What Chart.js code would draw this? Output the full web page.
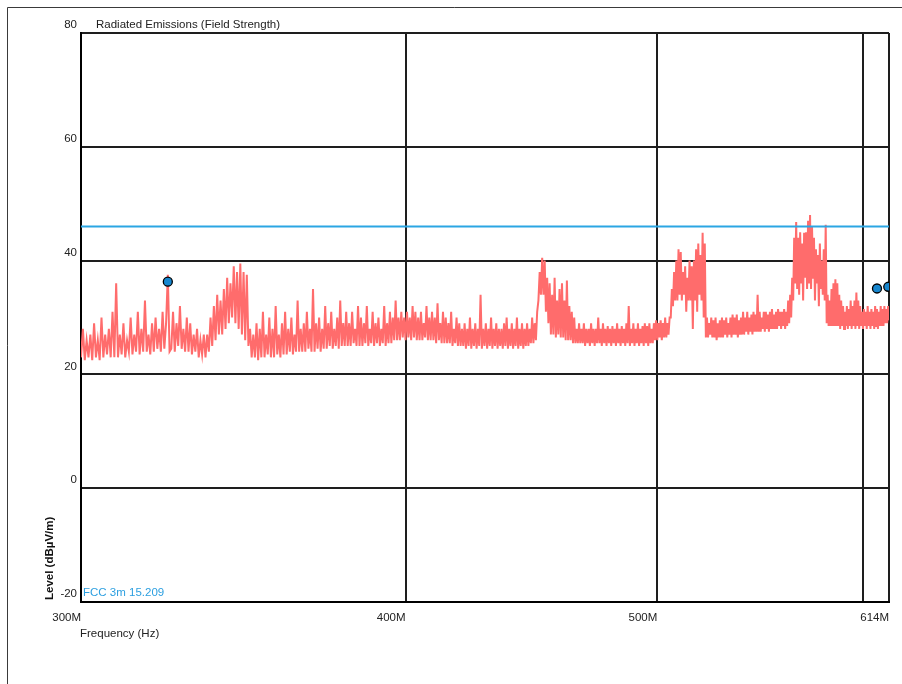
<!DOCTYPE html>
<html>
<head>
<meta charset="utf-8">
<title>Radiated Emissions (Field Strength)</title>
<script src="https://cdn.jsdelivr.net/npm/chart.js@4.4.0/dist/chart.umd.min.js"></script>
<style>
  html, body { margin: 0; padding: 0; background: #fff; }
</style>
</head>
<body>
<canvas id="myChart" width="902" height="684"></canvas>
<script>
// receiver sweep: 300 MHz .. 614 MHz, one reading every 0.5 MHz
const sweepStartMHz = 300;
const sweepStepMHz = 0.5;

// level readings (dBuV/m), 10 per row = 5 MHz per row
const levelDb = [
  23,28,22.5,26,23,27,22.5,29,23,26,
  22.5,30,23,27,23.5,28,23,31,23,36,
  23,27,23.5,29,23,26,24,30,23.5,27,
  24,31,23.5,28,24,33,24,27,23.5,29,
  24,30,24.5,28,24,31,24.5,29,37.5,24,
  24.5,31,24,29,25,32,24.5,28,24,30,
  24,29,23.5,27,24,28,23,26,23.5,27,
  23,27,24,30,25,32,26,34,27,33,
  27,35,28,37,29,36,30,39,29,38,
  28,39.5,27,38,26,37.5,25,28,23,27,
  23,29,22.5,28,23,31,23,27,23.5,30,
  23,28,23,32,23.5,27,23,29,23.5,31,
  23.5,28,24,30,23.5,27,24,33,24,28,
  24,29,24,31,24.5,28,24,35,24,29,
  24.5,30,24,28,24.5,32,24.5,29,25,31,
  24.5,28,25,30,24.5,33,25,29,25,31,
  25,29,25,31,25.5,28,25,32,25,30,
  25,29,25.5,32,25,28,25.5,31,25,29,
  25.5,30,25,28,25.5,32,25,29,25.5,31,
  25.5,30,26,33,26,30,26,31,26.5,30,
  26,31,26.5,30,26,32,26.5,31,26,30,
  26,31,26,29,26.5,32,26,30,26,31,
  26,30,25.5,32.5,26,29,25.5,31,25.5,30,
  25.5,29,25.5,31,25,28,25.5,30,25,29,
  25,28,25,29,24.5,28,25,30,24.5,28,
  25,29,24.5,28,25,34,24.5,28,25,29,
  24.5,28,25,30,24.5,28,25,29,24.5,28,
  25,28,24.5,29,25,30,24.5,28,25,29,
  24.5,28,25,30,24.5,28,25,29,24.5,28,
  25,29,25,28,25.5,30,25.5,29,26,31,
  33,38,34,40.5,34,40,31,37,29,36,
  27,34,27,37,26.5,33,27,35,26.5,36,
  26.5,33,26,36.5,26,32,26,31,25.5,30,
  25.5,28,25.5,29,25.5,28,25.5,29,25,28,
  25.5,28,25,29,25.5,28,25,28,25.5,30,
  25.5,28,25,29,25.5,28,25,28.5,25.5,28,
  25,28.5,25.5,28,25,29,25.5,28,25,28.5,
  25.5,28,25,29,25.5,32,25,28,25.5,29,
  25,28,25.5,29,25,28,25.5,28.5,25,29,
  25.5,28.5,25,29,25.5,28,25.5,29,26,29.5,
  26,29,26.5,29.5,26,29,26.5,30,26.5,29,
  27,30,30,35,32,38,33,40,33,42,
  34,41.5,33,38,34,39,31,37,33,40,
  33,39,28,40,33,42,31,43,34,41,
  33,44.9,30,43,26.5,30,26.5,29,27,30,
  26.5,29.5,26.5,30,26,29,26.5,29.5,26.5,30,
  26.5,29.5,27,30,26.5,29,27,30,26.5,30.5,
  27,30,27,30.5,26.5,29.5,27,30,27,31,
  27,30,27.5,31,27,30,27.5,30.5,27,31,
  27.5,30.5,27.5,34,27.5,31,27.5,30,28,31,
  27.5,31,28,30.5,27.5,31,28,31.5,28,30.5,
  28,31,28,31.5,28.5,31,28,31,28.5,31.5,
  28,31,28.5,33,29,34,30,37,33,44,
  36,46.8,35,44,34,45,36,43,33,44.9,
  37,45,35,47,36,48,35,46,37,44,
  33,42,36,41,32,43,35,40,34,42,
  33,46.3,29,34,28.5,33,28.5,35,28.5,36,
  28.5,36.7,28.5,36,28.5,34,28,33,28.5,32,
  28,31,28.5,32,28,31.5,28.5,33,28,32,
  28.5,33,28,34.4,28.5,33,28,32,28.5,31,
  28,31.5,28.5,31,28,32,28.5,31,28,31.5,
  28.5,31,28,32,28.5,31.5,28,31,28.5,32,
  28.5,31.5,28.5,32,29,31.5,29,32,29.5
];

const markerFreqMHz = [324, 607.5, 613.6];
const markerLevelDb = [36.3, 35.1, 35.4];

const limitFreqMHz = [300, 614];
const limitLevelDb = [46, 46];
const limitName = 'FCC 3m 15.209';

const freqTicks = [300, 400, 500, 600, 614];
const freqTickLabels = ['300M', '400M', '500M', '', '614M'];
const levelTicks = [-20, 0, 20, 40, 60, 80];

const fontFamily = '"Liberation Sans", Arial, sans-serif';

const tracePoints = levelDb.map(function(v, i) {
  return { x: sweepStartMHz + i * sweepStepMHz, y: v };
});
const markerPoints = markerFreqMHz.map(function(f, i) {
  return { x: f, y: markerLevelDb[i] };
});
const limitPoints = limitFreqMHz.map(function(f, i) {
  return { x: f, y: limitLevelDb[i] };
});

// frame around the page + texts that are not tick labels
const frameText = {
  id: 'frameText',
  beforeDraw(chart) {
    const ctx = chart.ctx;
    ctx.save();
    ctx.strokeStyle = '#3a3a3a';
    ctx.lineWidth = 1;
    ctx.beginPath();
    ctx.moveTo(7.5, 684);
    ctx.lineTo(7.5, 7.5);
    ctx.lineTo(902, 7.5);
    ctx.stroke();
    ctx.restore();
  },
  afterDraw(chart) {
    const ctx = chart.ctx;
    const area = chart.chartArea;
    ctx.save();
    ctx.textBaseline = 'middle';
    ctx.textAlign = 'left';
    ctx.fillStyle = '#222';
    ctx.font = '11.5px ' + fontFamily;
    ctx.fillText('Radiated Emissions (Field Strength)', 96, 25);
    ctx.fillText('Frequency (Hz)', area.left - 1, 634);

    ctx.fillStyle = '#2c9fe0';
    ctx.fillText(limitName, area.left + 2, area.bottom - 9);

    ctx.fillStyle = '#111';
    ctx.font = 'bold 11.5px ' + fontFamily;
    ctx.translate(50, area.bottom - 2);
    ctx.rotate(-Math.PI / 2);
    ctx.fillText('Level (dBµV/m)', 0, 0);
    ctx.restore();
  }
};

Chart.defaults.font.family = fontFamily;
Chart.defaults.font.size = 11.5;
Chart.defaults.color = '#222';

const ctx = document.getElementById('myChart').getContext('2d');
const chart = new Chart(ctx, {
  type: 'line',
  data: {
    datasets: [{
      label: 'Markers',
      data: markerPoints,
      showLine: false,
      pointRadius: 4.5,
      pointBackgroundColor: '#1787cf',
      pointBorderColor: '#000',
      pointBorderWidth: 1.3,
      clip: 0,
    },
    {
      label: limitName,
      data: limitPoints,
      borderColor: '#2ba6e3',
      borderWidth: 2,
      pointRadius: 0,
    },
    {
      label: 'Level',
      data: tracePoints,
      borderColor: 'rgb(255,108,108)',
      borderWidth: 2,
      pointRadius: 0,
      tension: 0,
    }]
  },
  options: {
    responsive: false,
    devicePixelRatio: 1,
    animation: false,
    layout: { padding: { left: 0, right: 13, top: 33, bottom: 0 } },
    plugins: {
      legend: { display: false },
      tooltip: { enabled: false },
    },
    scales: {
      x: {
        type: 'logarithmic',
        min: 300,
        max: 614,
        bounds: 'data',
        afterBuildTicks: function(scale) {
          scale.ticks = freqTicks.map(function(v) { return { value: v }; });
        },
        afterFit: function(scale) { scale.height = 82; },
        ticks: {
          autoSkip: false,
          maxRotation: 0,
          align: 'end',
          padding: 9,
          color: '#222',
          callback: function(value) {
            const i = freqTicks.indexOf(value);
            return i >= 0 ? freqTickLabels[i] : '';
          },
        },
        grid: { color: '#1e1e1e', lineWidth: 2, drawTicks: false },
        border: { display: true, color: '#000', width: 2 },
      },
      y: {
        min: -20,
        max: 80,
        afterBuildTicks: function(scale) {
          scale.ticks = levelTicks.map(function(v) { return { value: v }; });
        },
        afterFit: function(scale) { scale.width = 81; },
        ticks: {
          padding: 4,
          labelOffset: -8,
          color: '#222',
          callback: function(value) { return String(value); },
        },
        grid: { color: '#1e1e1e', lineWidth: 2, drawTicks: false },
        border: { display: true, color: '#000', width: 2 },
      }
    }
  },
  plugins: [frameText]
});
</script>
</body>
</html>
